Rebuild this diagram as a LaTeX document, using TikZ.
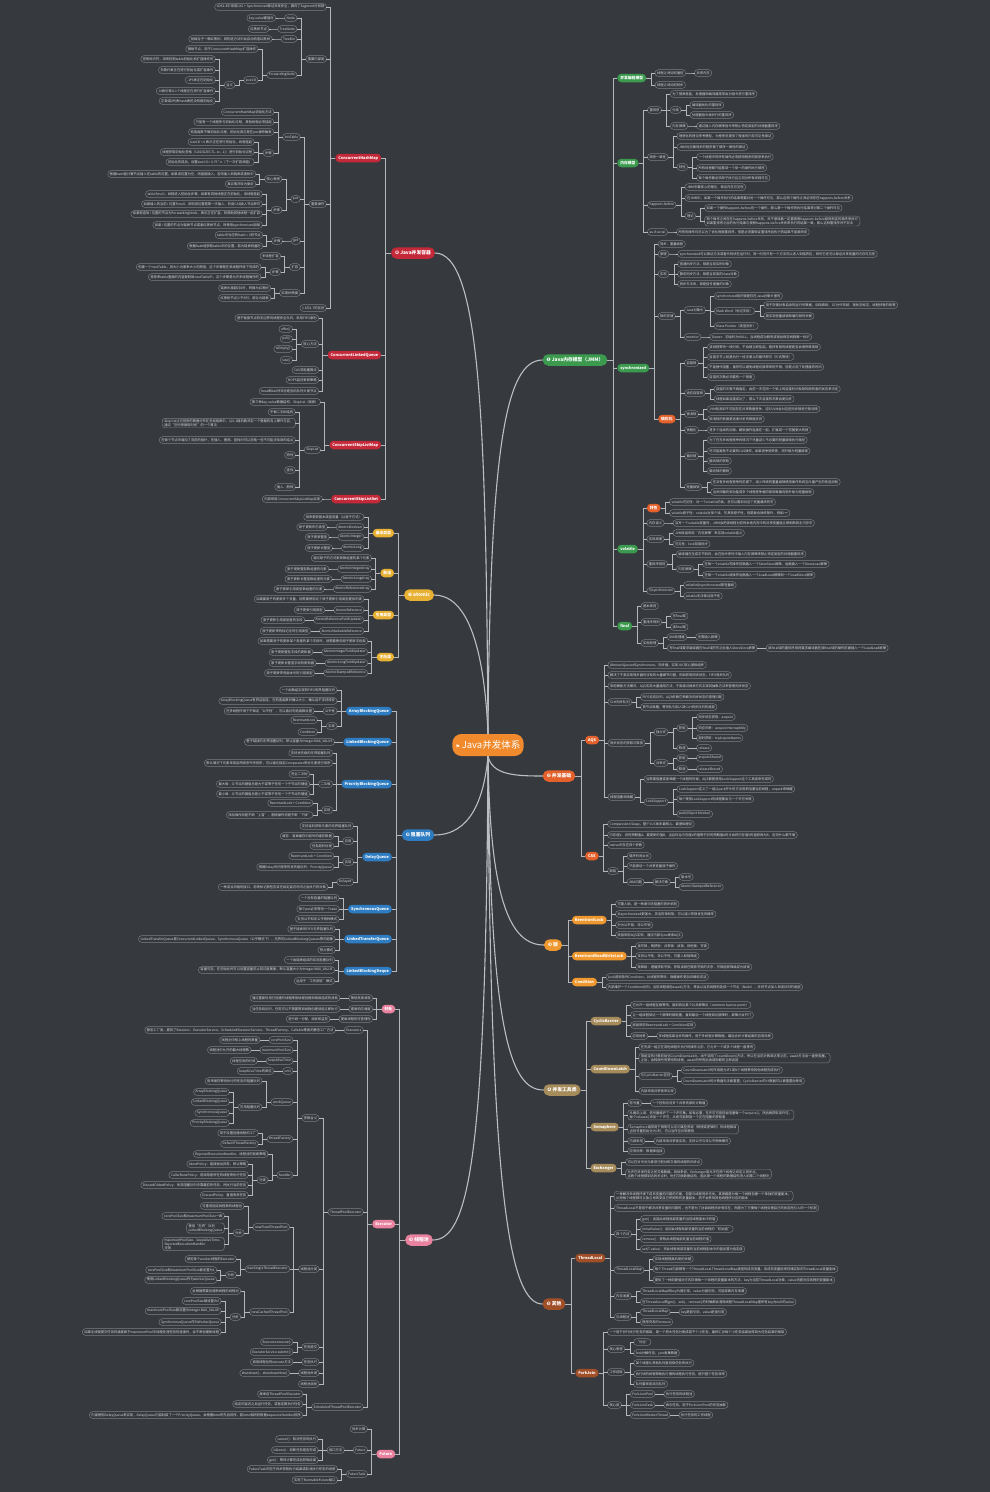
\documentclass[tikz,border=0pt]{standalone}
\usepackage{fontspec}
\setmainfont{Noto Sans CJK SC}
\newfontfamily\symfont{DejaVu Sans}

\definecolor{mmbg}{HTML}{36393E}
\definecolor{mmline}{HTML}{B4B7BB}
\definecolor{mmborder}{HTML}{7C7F84}
\definecolor{mmtext}{HTML}{D8D8D8}
\definecolor{cOrange}{HTML}{F08A2C}
\definecolor{cGreen}{HTML}{3B9A4E}
\definecolor{cRedOr}{HTML}{E4612B}
\definecolor{cLock}{HTML}{EF982F}
\definecolor{cTan}{HTML}{A68B5B}
\definecolor{cBrown}{HTML}{A14F29}
\definecolor{cRed}{HTML}{C4293A}
\definecolor{cYellow}{HTML}{E9B134}
\definecolor{cBlue}{HTML}{2E7CC1}
\definecolor{cPink}{HTML}{E8829F}

% 右侧分支：子节点放在父节点右边
\newcommand\rk[4][9]{%
  \foreach \yy/\lbl [count=\i] in {#4}{%
    \node[#3, anchor=west] (#2-\i) at ([xshift=#1pt]#2.east |- 0,\yy) {\lbl};
    \draw[link] (#2.east) -| ([xshift=-4pt]#2-\i.west) -- (#2-\i.west);
  }}
% 左侧分支：子节点放在父节点左边
\newcommand\lk[4][9]{%
  \foreach \yy/\lbl [count=\i] in {#4}{%
    \node[#3, anchor=east] (#2-\i) at ([xshift=-#1pt]#2.west |- 0,\yy) {\lbl};
    \draw[link] (#2.west) -| ([xshift=4pt]#2-\i.east) -- (#2-\i.east);
  }}

\begin{document}
\begin{tikzpicture}[x=1pt, y=-1pt,
    link/.style={draw=mmline, line width=0.5pt},
    trunk/.style={draw=mmline!90!white, line width=1.1pt},
    leaf/.style={draw=mmborder, line width=0.45pt, fill=mmbg, text=mmtext, rounded corners=3pt,
      font=\fontsize{3.3}{4}\selectfont, inner xsep=2pt, inner ysep=1.2pt, minimum height=6.6pt,
      align=left, outer sep=0pt},
    sub/.style={fill=#1, text=white, rounded corners=4pt, font=\fontsize{3.8}{4.5}\selectfont\bfseries,
      inner xsep=3pt, inner ysep=1.5pt, minimum height=8.5pt, outer sep=0pt},
    main/.style={fill=#1, text=white, rounded corners=5.5pt, font=\fontsize{4.8}{5.5}\selectfont\bfseries,
      inner xsep=4pt, inner ysep=2pt, minimum height=11.5pt, outer sep=0pt},
    root/.style={fill=cOrange, text=white, rounded corners=9pt, font=\fontsize{9.5}{11}\selectfont,
      minimum width=67pt, minimum height=22pt, outer sep=0pt}]

  \useasboundingbox (0,0) rectangle (990,1492);
  \fill[mmbg] (0,0) rectangle (990,1492);

  % ================= 中心与一级主题 =================
  \node[root] (root) at (488,745) {{\symfont\fontsize{5}{5}\selectfont ⚑}\,Java并发体系};

  \node[main=cGreen]  (jmm)   at (575,360)  {{\symfont ❶} Java内存模型（JMM）};
  \node[main=cRedOr]  (base)  at (559,776)  {{\symfont ❷} 并发基础};
  \node[main=cLock]   (lock)  at (553,945)  {{\symfont ❸} 锁};
  \node[main=cTan]    (tool)  at (562,1090) {{\symfont ❹} 并发工具类};
  \node[main=cBrown]  (other) at (554,1304) {{\symfont ❺} 其他};
  \node[main=cRed]    (coll)  at (413,253)  {{\symfont ❻} Java并发容器};
  \node[main=cYellow] (atom)  at (419,595)  {{\symfont ❼} atomic};
  \node[main=cBlue]   (bq)    at (418,835)  {{\symfont ❽} 阻塞队列};
  \node[main=cPink]   (pool)  at (419,1240) {{\symfont ❾} 线程池};

  % 主干曲线
  \draw[trunk] (root.north) .. controls (486,420) and (480,253) .. (coll.east);
  \draw[trunk] (root.north) .. controls (490,450) and (505,360) .. (jmm.west);
  \draw[trunk] (root.north) .. controls (484,640) and (465,595) .. (atom.east);
  \draw[trunk] (root.south) .. controls (492,775) and (515,776) .. (base.west);
  \draw[trunk] (root.south) .. controls (484,800) and (470,835) .. (bq.east);
  \draw[trunk] (root.south) .. controls (490,900) and (510,945) .. (lock.west);
  \draw[trunk] (root.south) .. controls (490,1030) and (510,1090) .. (tool.west);
  \draw[trunk] (root.south) .. controls (490,1200) and (510,1304) .. (other.west);
  \draw[trunk] (root.south) .. controls (486,1150) and (470,1240) .. (pool.east);

  % ================= 右侧：Java内存模型 =================
  \rk[10]{jmm}{sub=cGreen}{78/{并发编程模型},163/{内存模型},368/{synchronized},549/{volatile},626/{final}}
  % 1. 并发编程模型
  \rk{jmm-1}{leaf}{73/{线程之间如何通信},85/{线程之间如何同步}}
  \rk{jmm-1-1}{leaf}{73/{共享内存}}
  % 2. 内存模型
  \rk{jmm-2}{leaf}{110/{重排序},157/{顺序一致性},205/{happens-before},232/{as-if-serial}}
  \rk{jmm-2-1}{leaf}{94/{为了提高性能，处理器和编译器常常会对指令进行重排序},110/{分类},126/{内存屏障}}
  \rk{jmm-2-1-2}{leaf}{105/{编译器优化的重排序},115/{处理器指令级并行的重排序}}
  \rk{jmm-2-1-3}{leaf}{126/{通过插入内存屏障指令来禁止特定类型的处理器重排序}}
  \rk{jmm-2-2}{leaf}{136/{理想化的理论参考模型，为程序员提供了极强的内存可见性保证},147/{JMM对正确同步的程序做了顺序一致性的保证},167/{特性}}
  \rk{jmm-2-2-3}{leaf}{157/{一个线程中的所有操作必须按照程序的顺序来执行},168/{所有线程都只能看到一个单一的操作执行顺序},178/{每个操作都必须原子执行且立刻对所有线程可见}}
  \rk{jmm-2-3}{leaf}{187/{JMM中最核心的理论，保证内存可见性},198/{在JMM中，如果一个操作执行的结果需要对另一个操作可见，那么这两个操作之间必须存在happens-before关系},216/{理论}}
  \rk{jmm-2-3-3}{leaf}{208/{如果一个操作happens-before另一个操作，那么第一个操作的执行结果将对第二个操作可见},221/{两个操作之间存在happens-before关系，并不意味着一定要按照happens-before原则制定的顺序来执行\\如果重排序之后的执行结果与按照happens-before关系来执行的结果一致，那么这种重排序并不非法}}
  \rk{jmm-2-4}{leaf}{232/{所有的操作均可以为了优化而被重排序，但是必须要保证重排序后执行的结果不能被改变}}
  % 3. synchronized
  \rk{jmm-3}{leaf}{244/{同步、重量级锁},254/{原理},274/{实现},316/{锁的存储}}
  \rk{jmm-3-2}{leaf}{254/{synchronized可以保证方法或者代码块在运行时，同一时刻只有一个方法可以进入到临界区，同时它还可以保证共享变量的内存可见性}}
  \rk{jmm-3-3}{leaf}{264/{普通同步方法，锁是当前实例对象},274/{静态同步方法，锁是当前类的class对象},284/{同步方法块，锁是括号里面的对象}}
  \rk{jmm-3-4}{leaf}{310/{Java对象头},337/{monitor}}
  \rk{jmm-3-4-1}{leaf}{296/{synchronized用的锁是存在Java对象头里的},311/{Mark Word（标记字段）},326/{Klass Pointer（类型指针）}}
  \rk{jmm-3-4-1-2}{leaf}{305/{用于存储对象自身的运行时数据，如哈希码、GC分代年龄、锁状态标志、线程持有的锁等},316/{是实现轻量级锁和偏向锁的关键}}
  \rk{jmm-3-4-2}{leaf}{337/{Owner：初始时为NULL，当线程成功拥有该锁后保存线程唯一标识}}
  \node[sub=cRedOr, anchor=west] (syncopt) at ([xshift=9pt]jmm-3.east |- 0,419) {锁优化};
  \draw[link] (jmm-3.east) -| ([xshift=-4pt]syncopt.west) -- (syncopt.west);
  \rk{syncopt}{leaf}{363/{自旋锁},393/{适应自旋锁},414/{锁消除},430/{锁粗化},456/{偏向锁},487/{轻量级锁}}
  \rk{syncopt-1}{leaf}{347/{该线程等待一段时间，不会被立即挂起，看持有锁的线程是否会很快释放锁},357/{自旋字节上就是执行一段无意义的循环即可（忙式等待）},367/{不能替代阻塞，虽然可以避免线程切换带来的开销，但是占用了处理器的时间},377/{自旋的次数必须要有一个限度}}
  \rk{syncopt-2}{leaf}{389/{自旋的次数不再固定，由前一次在同一个锁上的自旋时间及锁的拥有者的状态来决定},399/{线程如果自旋成功了，那么下次自旋的次数会更加多}}
  \rk{syncopt-3}{leaf}{409/{JVM检测到不可能存在共享数据竞争，这时JVM会对这些同步锁进行锁消除},419/{锁消除的依据是逃逸分析的数据支持}}
  \rk{syncopt-4}{leaf}{430/{将多个连续的加锁、解锁操作连接在一起，扩展成一个范围更大的锁}}
  \rk{syncopt-5}{leaf}{440/{为了在无多线程竞争的情况下尽量减少不必要的轻量级锁执行路径},451/{尽可能避免不必要的CAS操作，如果竞争锁失败，则升级为轻量级锁},461/{偏向锁的获取},471/{偏向锁的撤销}}
  \rk{syncopt-6}{leaf}{482/{在没有多线程竞争的前提下，减少传统的重量级锁使用操作系统互斥量产生的性能消耗},492/{当关闭偏向锁功能或多个线程竞争偏向锁导致偏向锁升级为轻量级锁}}
  % 4. volatile
  \node[sub=cRedOr, anchor=west] (volfeat) at ([xshift=9pt]jmm-4.east |- 0,508) {特性};
  \draw[link] (jmm-4.east) -| ([xshift=-4pt]volfeat.west) -- (volfeat.west);
  \rk{volfeat}{leaf}{502/{volatile可见性：对一个volatile的读，总可以看到对这个变量最终的写},513/{volatile原子性：volatile对单个读、写具有原子性，但是复合操作除外，例如i++}}
  \rk{jmm-4}{leaf}{523/{内存语义},539/{实现原理},564/{重排序规则},591/{与synchronized}}
  \rk{jmm-4-1}{leaf}{523/{当写一个volatile变量时，JMM会把该线程对应的本地内存中的共享变量值立即刷新到主内存中}}
  \rk{jmm-4-2}{leaf}{533/{JVM底层采用“内存屏障”来实现volatile语义},544/{可见性：lock前缀指令}}
  \rk{jmm-4-3}{leaf}{554/{编译器在生成字节码时，会在指令序列中插入内存屏障来禁止特定类型的处理器重排序},569/{内存屏障}}
  \rk{jmm-4-3-2}{leaf}{564/{在每一个volatile写操作前面插入一个StoreStore屏障，后面插入一个StoreLoad屏障},575/{在每一个volatile读操作后面插入一个LoadLoad屏障和一个LoadStore屏障}}
  \rk{jmm-4-4}{leaf}{585/{volatile比synchronized更轻量级},596/{volatile无法保证原子性}}
  % 5. final
  \rk{jmm-5}{leaf}{606/{基本规则},622/{重排序规则},643/{实现原理}}
  \rk{jmm-5-2}{leaf}{616/{写final域},627/{读final域}}
  \rk{jmm-5-3}{leaf}{637/{X86处理器},648/{写final域要求编译器在final域的写之后插入StoreStore屏障}}
  \rk{jmm-5-3-1}{leaf}{637/{无需插入屏障}}
  \rk{jmm-5-3-2}{leaf}{648/{读final域的重排序规则要求编译器在读final域的操作前面插入一个LoadLoad屏障}}

  % ================= 右侧：并发基础 =================
  \rk[10]{base}{sub=cRedOr}{740/{AQS},856/{CAS}}
  \rk{base-1}{leaf}{665/{AbstractQueuedSynchronizer，同步器，实现JUC核心基础组件},675/{解决了子类实现同步器时涉及的大量细节问题，例如获取同步状态、FIFO同步队列},686/{采用模板方法模式，AQS实现大量通用方法，子类通过继承方式实现其抽象方法来管理同步状态},702/{CLH同步队列},743/{同步状态的获取与释放},797/{线程阻塞和唤醒}}
  \rk{base-1-4}{leaf}{697/{FIFO双向队列，AQS依赖它来解决同步状态的管理问题},707/{首节点唤醒，等待队列加入到CLH同步队列的尾部}}
  \rk{base-1-5}{leaf}{732/{独占式},763/{共享式}}
  \rk{base-1-5-1}{leaf}{728/{获取},748/{释放}}
  \rk{base-1-5-1-1}{leaf}{717/{同步状态获取：acquire},728/{响应中断：acquireInterruptibly},738/{超时获取：tryAcquireNanos}}
  \rk{base-1-5-1-2}{leaf}{748/{release}}
  \rk{base-1-5-2}{leaf}{758/{获取},769/{释放}}
  \rk{base-1-5-2-1}{leaf}{758/{acquireShared}}
  \rk{base-1-5-2-2}{leaf}{769/{releaseShared}}
  \rk{base-1-6}{leaf}{779/{当需要阻塞或者唤醒一个线程的时候，AQS都是使用LockSupport这个工具类来完成的},802/{LockSupport}}
  \rk{base-1-6-2}{leaf}{789/{LockSupport定义了一组以park开头的方法用来阻塞当前线程，unpark来唤醒},799/{每个使用LockSupport的线程都会与一个许可关联},814/{park(Object blocker)}}
  \rk{base-2}{leaf}{824/{Compare And Swap，整个JUC体系最核心、最基础理论},835/{内存值V、旧的预期值A、要更新的值B，当且仅当内存值V的值等于旧的预期值A时才会将内存值V的值修改为B，否则什么都不做},845/{native中存在四个参数},871/{缺陷}}
  \rk{base-2-4}{leaf}{856/{循环时间太长},866/{只能保证一个共享变量原子操作},882/{ABA问题}}
  \rk{base-2-4-3}{leaf}{882/{解决方案}}
  \rk{base-2-4-3-1}{leaf}{877/{版本号},887/{AtomicStampedReference}}

  % ================= 右侧：锁 =================
  \rk[10]{lock}{sub=cLock}{920/{ReentrantLock},956/{ReentrantReadWriteLock},982/{Condition}}
  \rk{lock-1}{leaf}{904/{可重入锁，是一种递归无阻塞的同步机制},914/{比synchronized更强大、灵活的锁机制，可以减少死锁发生的概率},925/{分为公平锁、非公平锁},935/{底层采用AQS实现，通过内部Sync继承AQS}}
  \rk{lock-2}{leaf}{946/{读写锁，两把锁：共享锁：读锁、排他锁：写锁},956/{支持公平性、非公平性，可重入和锁降级},967/{锁降级：遵循获取写锁、获取读锁在释放写锁的次序，写锁能够降级成为读锁}}
  \rk{lock-3}{leaf}{977/{Lock提供条件Condition，对线程的等待、唤醒操作更加详细和灵活},987/{内部维护一个Condition队列。当前线程调用await()方法，将会以当前线程构造成一个节点（Node），并将节点加入到该队列的尾部}}

  % ================= 右侧：并发工具类 =================
  \rk[10]{tool}{sub=cTan}{1021/{CyclicBarrier},1069/{CountDownLatch},1127/{Semaphore},1168/{Exchanger}}
  \rk{tool-1}{leaf}{1005/{它允许一组线程互相等待，直到到达某个公共屏障点（common barrier point）},1015/{让一组线程到达一个屏障时被阻塞，直到最后一个线程到达屏障时，屏障才会开门},1025/{底层采用ReentrantLock + Condition实现},1036/{应用场景}}
  \rk{tool-1-4}{leaf}{1036/{多线程结果合并的操作，用于多线程计算数据，最后合并计算结果的应用场景}}
  \rk{tool-2}{leaf}{1047/{在完成一组正在其他线程中执行的操作之前，它允许一个或多个线程一直等待},1058/{用给定的计数初始化CountDownLatch。由于调用了countDown()方法，所以在当前计数到达零之前，await方法会一直受阻塞。\\之后，会释放所有等待的线程，await的所有后续调用都将立即返回},1076/{与CyclicBarrier区别},1091/{内部采用共享锁来实现}}
  \rk{tool-2-3}{leaf}{1070/{CountDownLatch的作用是允许1或N个线程等待其他线程完成执行},1081/{CountDownLatch的计数器无法被重置；CyclicBarrier的计数器可以被重置后使用}}
  \rk{tool-3}{leaf}{1103/{信号量},1115/{从概念上讲，信号量维护了一个许可集。如有必要，在许可可用前会阻塞每一个acquire()，然后再获取该许可。\\每个release()添加一个许可，从而可能释放一个正在阻塞的获取者},1129/{Semaphore通常用于限制可以访问某些资源（物理或逻辑的）的线程数目\\当信号量初始化为1时，可以当作互斥锁使用},1141/{内部采用},1151/{应用场景：数据库连接}}
  \rk{tool-3-1}{leaf}{1103/{一个控制访问多个共享资源的计数器}}
  \rk{tool-3-4}{leaf}{1141/{内部采用共享锁实现，支持公平与非公平两种模式}}
  \rk{tool-4}{leaf}{1162/{可以在对中对元素进行配对和交换的线程的同步点},1174/{允许在并发任务之间交换数据。具体来说，Exchanger类允许在两个线程之间定义同步点。\\当两个线程都到达同步点时，他们交换数据结构，因此第一个线程的数据结构进入到第二个线程中}}

  % ================= 右侧：其他 =================
  \rk[10]{other}{sub=cBrown}{1258/{ThreadLocal},1373/{ForkJoin}}
  \rk{other-1}{leaf}{1196/{一种解决多线程环境下成员变量的问题的方案，但是与线程同步无关。其思路是为每一个线程创建一个单独的变量副本，\\从而每个线程都可以独立地改变自己所拥有的变量副本，而不会影响其他线程所对应的副本},1208/{ThreadLocal不是用于解决共享变量的问题的，也不是为了协调线程同步而存在，而是为了方便每个线程处理自己的状态而引入的一个机制},1234/{四个方法},1270/{ThreadLocalMap},1296/{内存泄漏},1317/{与线程池}}
  \rk{other-1-3}{leaf}{1219/{get()：返回此线程局部变量的当前线程副本中的值},1229/{initialValue()：返回此线程局部变量的当前线程的“初始值”},1239/{remove()：移除此线程局部变量当前线程的值},1249/{set(T value)：将此线程局部变量的当前线程副本中的值设置为指定值}}
  \rk{other-1-4}{leaf}{1259/{实现线程隔离机制的关键},1269/{每个Thread内部都有一个ThreadLocal.ThreadLocalMap类型的成员变量，该成员变量用来存储实际的ThreadLocal变量副本},1280/{提供了一种用键值对方式存储每一个线程的变量副本的方法，key为当前ThreadLocal对象，value则是对应线程的变量副本}}
  \rk{other-1-5}{leaf}{1291/{ThreadLocalMap的key为弱引用，value为强引用，可能导致内存泄漏},1302/{在ThreadLocal的get()、set()、remove()的时候都会清除线程ThreadLocalMap里所有key为null的value}}
  \rk{other-1-6}{leaf}{1312/{ThreadLocalMap},1322/{使用完及时remove}}
  \rk{other-1-6-1}{leaf}{1312/{key是弱引用，value是强引用}}
  \rk{other-2}{leaf}{1332/{一个用于并行执行任务的框架，是一个把大任务分割成若干个小任务，最终汇总每个小任务结果后得到大任务结果的框架},1349/{核心思想},1372/{工作窃取},1405/{核心类}}
  \rk{other-2-2}{leaf}{1342/{“分治”},1353/{fork分解任务，join收集数据}}
  \rk{other-2-3}{leaf}{1363/{某个线程从其他队列里窃取任务来执行},1374/{执行块的线程帮助执行慢的线程执行任务，提升整个任务效率},1384/{队列要采用双向队列}}
  \rk{other-2-4}{leaf}{1394/{ForkJoinPool},1405/{ForkJoinTask},1415/{ForkJoinWorkerThread}}
  \rk{other-2-4-1}{leaf}{1394/{执行任务的线程池}}
  \rk{other-2-4-2}{leaf}{1405/{表示任务，用于ForkJoinPool的任务抽象}}
  \rk{other-2-4-3}{leaf}{1415/{执行任务的工作线程}}

  % ================= 左侧：Java并发容器 =================
  \lk[10]{coll}{sub=cRed}{158/{ConcurrentHashMap},355/{ConcurrentLinkedQueue},445/{ConcurrentSkipListMap},499/{ConcurrentSkipListSet}}
  \lk{coll-1}{leaf}{7/{JDK1.8中采用CAS + Synchronized保证并发安全，摒弃了Segment分段锁},59/{重要内部类},204/{重要操作},308/{1.8与1.7的区别}}
  \lk{coll-1-2}{leaf}{18/{Node},29/{TreeNode},39/{TreeBin},75/{ForwardingNode}}
  \lk{coll-1-2-1}{leaf}{18/{key-value键值对}}
  \lk{coll-1-2-2}{leaf}{29/{红黑树节点}}
  \lk{coll-1-2-3}{leaf}{39/{就相当于一颗红黑树，其构造方法中会自动构造红黑树}}
  \lk{coll-1-2-4}{leaf}{49/{辅助节点，用于ConcurrentHashMap扩容操作},80/{sizeCtl}}
  \lk{coll-1-2-4-2}{leaf}{85/{含义}}
  \lk{coll-1-2-4-2-1}{leaf}{59/{控制标识符，用来控制table初始化和扩容操作的},70/{负数代表正在进行初始化或扩容操作},80/{-1代表正在初始化},91/{-N表示有N-1个线程正在进行扩容操作},101/{正数或0代表hash表还没有被初始化}}
  \lk{coll-1-3}{leaf}{137/{initTable},199/{put},241/{get},267/{扩容},293/{红黑树转换}}
  \lk{coll-1-3-1}{leaf}{112/{ConcurrentHashMap初始化方法},122/{只能有一个线程参与初始化过程，其他线程必须挂起},132/{构造函数不做初始化过程，初始化真正是在put操作触发},153/{步骤}}
  \lk{coll-1-3-1-4}{leaf}{142/{sizeCtl < 0 表示正在进行初始化，线程挂起},152/{线程获取初始化资格（CAS(SIZECTL, sc, -1)）进行初始化过程},162/{初始化完成后，设置sizeCtl = 0.75 * n（下一次扩容阈值）}}
  \lk{coll-1-3-2}{leaf}{179/{核心思想},210/{步骤}}
  \lk{coll-1-3-2-1}{leaf}{174/{根据hash值计算节点插入在table的位置，如果该位置为空，则直接插入，否则插入到链表或者树中},184/{真实情况较为复杂}}
  \lk{coll-1-3-2-2}{leaf}{194/{table为null，线程进入初始化步骤，如果有其他线程正在初始化，该线程挂起},204/{如果插入的当前 i 位置为null，说明该位置是第一次插入，利用CAS插入节点即可},214/{如果检查到 i 位置的节点为ForwardingNode，表示正在扩容，则帮助其他线程一起扩容},225/{如果 i 位置的节点为链表节点或者红黑树节点，则使用synchronized加锁}}
  \lk{coll-1-3-3}{leaf}{241/{步骤}}
  \lk{coll-1-3-3-1}{leaf}{235/{table中对应的hash = 0的节点},246/{根据hash值获取table中的位置，若为链表则遍历}}
  \lk{coll-1-3-4}{leaf}{256/{多线程扩容},272/{步骤}}
  \lk{coll-1-3-4-2}{leaf}{267/{构建一个nextTable，其大小为原来大小的两倍，这个步骤是在单线程环境下完成的},277/{将原来table里面的内容复制到nextTable中，这个步骤是允许多线程操作的}}
  \lk{coll-1-3-5}{leaf}{288/{链表长度超过8时，转换为红黑树},298/{红黑树节点少于6时，退化为链表}}
  \lk{coll-2}{leaf}{318/{基于链接节点的无边界的线程安全队列，采用FIFO原则},344/{核心方法},370/{CAS非阻塞算法},380/{HOPS延迟更新策略},391/{head和tail并非总是指向队列头尾节点}}
  \lk{coll-2-2}{leaf}{329/{offer()},339/{poll()},349/{isEmpty()},360/{size()}}
  \lk{coll-3}{leaf}{402/{第三种key-value数据结构：SkipList（跳表）},450/{SkipList}}
  \lk{coll-3-2}{leaf}{412/{平衡二叉树结构},423/{Skip list让已排序的数据分布在多层链表中，以0-1随机数决定一个数据的向上攀升与否，\\通过“空间来换取时间”的一个算法},440/{在每个节点中增加了向前的指针，在插入、删除、查找时可以忽略一些不可能涉及到的结点},455/{特性},470/{查找},487/{插入、删除}}
  \lk{coll-4}{leaf}{499/{内部采用ConcurrentSkipListMap实现}}

  % ================= 左侧：atomic =================
  \lk[10]{atom}{sub=cYellow}{533/{基本类型},573/{数组},615/{引用类型},657/{字段类}}
  \lk{atom-1}{leaf}{517/{用来更新基本类型变量（以原子方式）},527/{AtomicBoolean},537/{AtomicInteger},548/{AtomicLong}}
  \lk{atom-1-2}{leaf}{527/{原子更新布尔类型}}
  \lk{atom-1-3}{leaf}{537/{原子更新整型}}
  \lk{atom-1-4}{leaf}{548/{原子更新长整型}}
  \lk{atom-2}{leaf}{558/{通过原子的方式更新数组里的某个元素},569/{AtomicIntegerArray},579/{AtomicLongArray},589/{AtomicReferenceArray}}
  \lk{atom-2-2}{leaf}{569/{原子更新整型数组里的元素}}
  \lk{atom-2-3}{leaf}{579/{原子更新长整型数组里的元素}}
  \lk{atom-2-4}{leaf}{589/{原子更新引用类型数组里的元素}}
  \lk{atom-3}{leaf}{599/{如果要原子的更新多个变量，就需要使用这个原子更新引用类型提供的类},610/{AtomicReference},620/{AtomicReferenceFieldUpdater},631/{AtomicMarkableReference}}
  \lk{atom-3-2}{leaf}{610/{原子更新引用类型}}
  \lk{atom-3-3}{leaf}{620/{原子更新引用类型里的字段}}
  \lk{atom-3-4}{leaf}{631/{原子更新带有标记位的引用类型}}
  \lk{atom-4}{leaf}{641/{如果需要原子的更新某个类里的某个字段时，就需要使用原子更新字段类},652/{AtomicIntegerFieldUpdater},663/{AtomicLongFieldUpdater},673/{AtomicStampedReference}}
  \lk{atom-4-2}{leaf}{652/{原子更新整型字段的更新器}}
  \lk{atom-4-3}{leaf}{663/{原子更新长整型字段的更新器}}
  \lk{atom-4-4}{leaf}{673/{原子更新带有版本号的引用类型}}

  % ================= 左侧：阻塞队列 =================
  \lk[10]{bq}{sub=cBlue}{711/{ArrayBlockingQueue},742/{LinkedBlockingQueue},784/{PriorityBlockingQueue},857/{DelayQueue},909/{SynchronousQueue},939/{LinkedTransferQueue},971/{LinkedBlockingDeque}}
  \lk{bq-1}{leaf}{690/{一个由数组实现的FIFO有界阻塞队列},701/{ArrayBlockingQueue有界且固定，在构造函数时确认大小，确认后不支持改变},711/{公平性},726/{实现}}
  \lk{bq-1-3}{leaf}{711/{在多线程环境下不保证“公平性”，可以通过构造函数设置}}
  \lk{bq-1-4}{leaf}{720/{ReentrantLock},732/{Condition}}
  \lk{bq-2}{leaf}{742/{基于链接的无界阻塞队列，默认容量为Integer.MAX\_VALUE}}
  \lk{bq-3}{leaf}{753/{支持优先级的无界阻塞队列},763/{默认情况下元素采用自然顺序升序排序，可以通过指定Comparator来对元素进行排序},784/{二叉堆},810/{实现}}
  \lk{bq-3-3}{leaf}{774/{完全二叉树},784/{最大堆：父节点的键值总是大于或等于任何一个子节点的键值},794/{最小堆：父节点的键值总是小于或等于任何一个子节点的键值}}
  \lk{bq-3-4}{leaf}{803/{ReentrantLock + Condition},815/{添加操作则是不断“上冒”，删除操作则是不断“下掉”}}
  \lk{bq-4}{leaf}{826/{支持延时获取元素的无界阻塞队列},841/{应用},862/{实现},882/{Delayed}}
  \lk{bq-4-2}{leaf}{836/{缓存：清掉缓存中超时的缓存数据},846/{任务超时处理}}
  \lk{bq-4-3}{leaf}{856/{ReentrantLock + Condition},867/{根据Delay时间排序的优先级队列：PriorityQueue}}
  \lk{bq-4-4}{leaf}{887/{一种混合风格的接口，用来标记那些应该在给定延迟时间之后执行的对象}}
  \lk{bq-5}{leaf}{898/{一个没有容量的阻塞队列},909/{每个put必须等待一个take},919/{支持公平和非公平两种模式}}
  \lk{bq-6}{leaf}{929/{基于链表的FIFO无界阻塞队列},939/{LinkedTransferQueue是ConcurrentLinkedQueue、SynchronousQueue（公平模式下）、无界的LinkedBlockingQueues等的超集},950/{预占模式}}
  \lk{bq-7}{leaf}{960/{一个由链表组成的双向阻塞队列},970/{容量可选，在初始化时可以设置容量防止其过度膨胀，默认容量大小为Integer.MAX\_VALUE},981/{运用于“工作窃取”模式}}

  % ================= 左侧：线程池 =================
  \lk[10]{pool}{sub=cPink}{1009/{好处},1224/{Executor},1454/{Future}}
  \lk{pool-1}{leaf}{998/{降低资源消耗},1009/{提高响应速度},1019/{提高线程的可管理性}}
  \lk{pool-1-1}{leaf}{998/{通过重复利用已创建的线程降低线程创建和销毁造成的消耗}}
  \lk{pool-1-2}{leaf}{1009/{当任务到达时，任务可以不需要等到线程创建就能立即执行}}
  \lk{pool-1-3}{leaf}{1019/{进行统一分配、调优和监控}}
  \lk{pool-2}{leaf}{1030/{Executors},1212/{ThreadPoolExecutor},1407/{ScheduledThreadPoolExecutor}}
  \lk{pool-2-1}{leaf}{1030/{静态工厂类，提供了Executor、ExecutorService、ScheduledExecutorService、ThreadFactory、Callable等类的静态工厂方法}}
  \lk{pool-2-2}{leaf}{1118/{参数含义},1269/{线程池分类},1347/{任务提交},1362/{任务执行},1373/{线程池关闭},1384/{线程池调优}}
  \lk{pool-2-2-1}{leaf}{1040/{corePoolSize},1050/{maximumPoolSize},1061/{keepAliveTime},1071/{unit},1102/{workQueue},1139/{threadFactory},1175/{handler}}
  \lk{pool-2-2-1-1}{leaf}{1040/{线程池中核心线程的数量}}
  \lk{pool-2-2-1-2}{leaf}{1050/{线程池中允许的最大线程数}}
  \lk{pool-2-2-1-3}{leaf}{1061/{线程空闲的时间}}
  \lk{pool-2-2-1-4}{leaf}{1071/{keepAliveTime的单位}}
  \lk{pool-2-2-1-5}{leaf}{1081/{用来保存等待执行的任务的阻塞队列},1107/{可用阻塞队列}}
  \lk{pool-2-2-1-5-2}{leaf}{1092/{ArrayBlockingQueue},1102/{LinkedBlockingQueue},1113/{SynchronousQueue},1123/{PriorityBlockingQueue}}
  \lk{pool-2-2-1-6}{leaf}{1133/{用于设置创建线程的工厂},1144/{DefaultThreadFactory}}
  \lk{pool-2-2-1-7}{leaf}{1154/{RejectedExecutionHandler，线程池的拒绝策略},1180/{分类}}
  \lk{pool-2-2-1-7-2}{leaf}{1164/{AbortPolicy：直接抛出异常，默认策略},1175/{CallerRunsPolicy：用调用者所在的线程来执行任务},1185/{DiscardOldestPolicy：丢弃阻塞队列中靠最前的任务，并执行当前任务},1195/{DiscardPolicy：直接丢弃任务}}
  \lk{pool-2-2-2}{leaf}{1227/{newFixedThreadPool},1269/{newSingleThreadExecutor},1312/{newCachedThreadPool}}
  \lk{pool-2-2-2-1}{leaf}{1206/{可重用固定线程数的线程池},1233/{分析}}
  \lk{pool-2-2-2-1-2}{leaf}{1216/{corePoolSize和maximumPoolSize一致},1228/{使用“无界”队列\\LinkedBlockingQueue},1244/{maximumPoolSize、keepAliveTime、\\RejectedExecutionHandler\\无效}}
  \lk{pool-2-2-2-2}{leaf}{1259/{使用单个worker线程的Executor},1275/{分析}}
  \lk{pool-2-2-2-2-2}{leaf}{1270/{corePoolSize和maximumPoolSize被设置为1},1280/{使用LinkedBlockingQueue作为workerQueue}}
  \lk{pool-2-2-2-3}{leaf}{1291/{会根据需要创建新线程的线程池},1317/{分析}}
  \lk{pool-2-2-2-3-2}{leaf}{1301/{corePoolSize被设置为0},1311/{maximumPoolSize被设置为Integer.MAX\_VALUE},1322/{SynchronousQueue作为WorkerQueue},1332/{如果主线程提交任务的速度高于maximumPool中线程处理任务的速度时，会不断创建新线程}}
  \lk{pool-2-2-3}{leaf}{1342/{Executor.execute()},1352/{ExecutorService.submit()}}
  \lk{pool-2-2-4}{leaf}{1362/{调用线程池的execute方法}}
  \lk{pool-2-2-5}{leaf}{1373/{shutdown()、shutdownNow()}}
  \lk{pool-2-3}{leaf}{1394/{继承自ThreadPoolExecutor},1404/{给定的延迟之后运行任务，或者定期执行任务},1415/{内部使用DelayQueue来实现，DelayQueue内部封装了一个PriorityQueue，会根据time的先后排序，若time相同则根据sequenceNumber排序}}
  \lk{pool-3}{leaf}{1429/{异步计算},1450/{Future},1474/{FutureTask}}
  \lk{pool-3-2}{leaf}{1450/{接口方法}}
  \lk{pool-3-2-1}{leaf}{1439/{cancel()：取消任务的执行},1450/{isDone()：判断任务是否完成},1460/{get()：等待计算完成后获取结果}}
  \lk{pool-3-3}{leaf}{1469/{FutureTask可用于异步获取执行结果或取消执行任务的场景},1480/{实现了RunnableFuture接口}}
\end{tikzpicture}
\end{document}
